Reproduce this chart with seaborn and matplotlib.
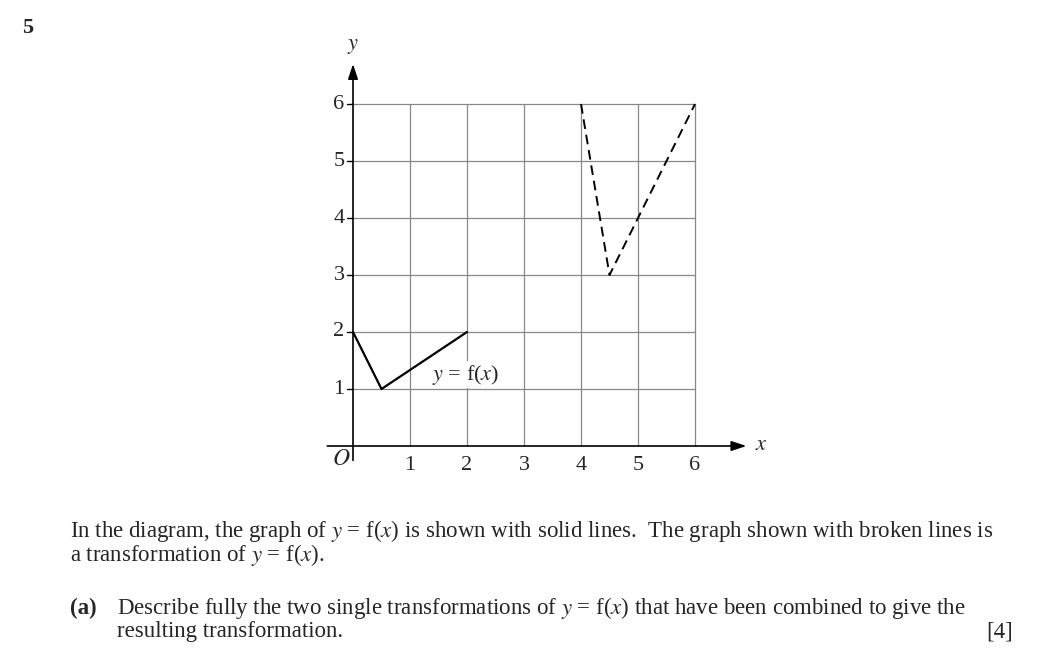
import matplotlib.pyplot as plt
import seaborn as sns
import pandas as pd

# data
solid_x = [0, 0.5, 2]
solid_y = [2, 1, 2]
dash_x = [4, 4.5, 6]
dash_y = [6, 3, 6]
ticks = [1, 2, 3, 4, 5, 6]

sns.set_style("white")
plt.rcParams['font.family'] = ['Liberation Serif', 'DejaVu Serif']
plt.rcParams['mathtext.fontset'] = 'stix'

W, H = 1038, 656
fig = plt.figure(figsize=(W / 100, H / 100), dpi=100)
# origin at pixel (353, 446), 57 px per unit
x0, x1, y0, y1 = -0.5, 7.0, -0.6, 6.8
px = lambda x: 353 + 57 * x
py = lambda y: 446 - 57 * y
ax = fig.add_axes([px(x0) / W, (H - py(y0)) / H, (px(x1) - px(x0)) / W, (py(y0) - py(y1)) / H])
ax.set_xlim(x0, x1)
ax.set_ylim(y0, y1)
ax.axis('off')

# grid
for t in ticks:
    ax.plot([t, t], [0, 6], color='#888888', lw=0.9, zorder=1)
    ax.plot([0, 6], [t, t], color='#888888', lw=0.9, zorder=1)

# axes with arrows
ax.annotate('', xy=(6.95, 0), xytext=(-0.5, 0),
            arrowprops=dict(arrowstyle='-|>,head_length=0.9,head_width=0.3', color='black', lw=1.2))
ax.annotate('', xy=(0, 6.75), xytext=(0, -0.3),
            arrowprops=dict(arrowstyle='-|>,head_length=0.9,head_width=0.3', color='black', lw=1.2))

for t in ticks:
    ax.plot([-0.1, 0], [t, t], color='black', lw=1.0)
    ax.text(-0.15, t, str(t), ha='right', va='center', fontsize=16)
    ax.text(t, -0.18, str(t), ha='center', va='top', fontsize=16)
ax.text(-0.2, -0.05, '$O$', ha='center', va='top', fontsize=17)
ax.text(7.05, 0, '$x$', ha='left', va='center', fontsize=16)
ax.text(0, 6.85, '$y$', ha='center', va='bottom', fontsize=16)

df1 = pd.DataFrame({'x': solid_x, 'y': solid_y})
df2 = pd.DataFrame({'x': dash_x, 'y': dash_y})
sns.lineplot(data=df1, x='x', y='y', ax=ax, color='black', lw=1.6, sort=False)
sns.lineplot(data=df2, x='x', y='y', ax=ax, color='black', lw=1.4, sort=False, linestyle=(0, (5, 3)))
ax.axis('off')
ax.text(1.38, 1.25, '$y$ = f($x$)', ha='left', va='center', fontsize=16,
        bbox=dict(facecolor='white', edgecolor='none', pad=1))

# surrounding text
fs = 16.5
fig.text(22 / W, 1 - 28 / H, '5', fontsize=16, fontweight='bold', va='center')
fig.text(70 / W, 1 - 531 / H, 'In the diagram, the graph of $y$ = f($x$) is shown with solid lines.  The graph shown with broken lines is',
         fontsize=fs, va='center')
fig.text(70 / W, 1 - 555 / H, 'a transformation of $y$ = f($x$).', fontsize=fs, va='center')
fig.text(70 / W, 1 - 608 / H, '(a)', fontsize=fs, fontweight='bold', va='center')
fig.text(117 / W, 1 - 608 / H, 'Describe fully the two single transformations of $y$ = f($x$) that have been combined to give the',
         fontsize=fs, va='center')
fig.text(117 / W, 1 - 632 / H, 'resulting transformation.', fontsize=fs, va='center')
fig.text(1013 / W, 1 - 632 / H, '[4]', fontsize=fs, va='center', ha='right')

fig.savefig('out.png', dpi=100)
